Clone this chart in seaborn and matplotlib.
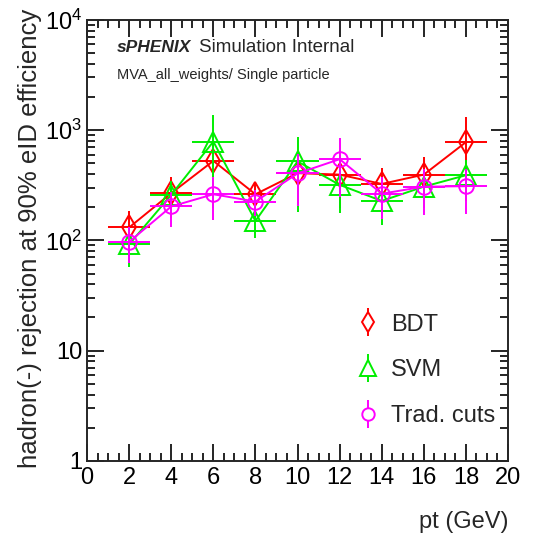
import numpy as np
import pandas as pd
import seaborn as sns
import matplotlib.pyplot as plt
from matplotlib.lines import Line2D
from matplotlib.ticker import FixedLocator, LogLocator, FuncFormatter, NullFormatter

# data
pt = [2, 4, 6, 8, 10, 12, 14, 16, 18]
bdt = [131, 268, 526, 262, 407, 395, 325, 395, 778]
bdt_err = [52, 110, 250, 80, 170, 200, 130, 170, 550]
svm = [92, 259, 787, 150, 520, 319, 228, 307, 390]
svm_err = [35, 90, 590, 45, 340, 140, 90, 110, 150]
trad = [97, 203, 262, 225, 405, 545, 265, 307, 310]
trad_err = [35, 72, 110, 60, 200, 300, 110, 137, 137]
labels = ["BDT", "SVM", "Trad. cuts"]

sns.set_style("ticks")
plt.rcParams['font.family'] = ['Liberation Sans', 'DejaVu Sans']
plt.rcParams['mathtext.default'] = 'regular'

fig = plt.figure(figsize=(5.51, 5.36), dpi=100)
ax = fig.add_axes([0.158, 0.14, 0.764, 0.823])

series = [
    (bdt, bdt_err, "#ff0000", "d", 12.5),
    (svm, svm_err, "#00ee00", "^", 14),
    (trad, trad_err, "#ff00ff", "o", 10.5),
]

handles = []
for (vals, errs, col, mk, ms), lab in zip(series, labels):
    df = pd.DataFrame({"pt": pt, "val": vals})
    sns.lineplot(data=df, x="pt", y="val", color=col, lw=1.4, ax=ax,
                 marker=mk, markersize=ms, markerfacecolor="none",
                 markeredgecolor=col, markeredgewidth=1.4)
    ax.errorbar(pt, vals, yerr=errs, xerr=1, fmt="none", ecolor=col,
                elinewidth=1.4, capsize=0)
    bar = Line2D([], [], marker="|", color=col, markersize=20,
                 markeredgewidth=1.4, linestyle="none")
    mark = Line2D([], [], marker=mk, color=col, markersize=ms * 0.85,
                  markerfacecolor="white", markeredgewidth=1.4, linestyle="none")
    handles.append((bar, mark))

ax.set_yscale("log")
ax.set_xlim(0, 20)
ax.set_ylim(1, 1e4)

ax.xaxis.set_major_locator(FixedLocator(np.arange(0, 21, 2)))
ax.xaxis.set_minor_locator(FixedLocator(np.arange(0, 20.01, 0.5)))
ax.yaxis.set_major_locator(LogLocator(base=10, numticks=10))
ax.yaxis.set_minor_locator(LogLocator(base=10, subs=np.arange(2, 10), numticks=10))
ax.yaxis.set_minor_formatter(NullFormatter())


def ylab(v, pos):
    e = int(round(np.log10(v)))
    if e == 0:
        return "1"
    if e == 1:
        return "10"
    return r"$10^{%d}$" % e


ax.yaxis.set_major_formatter(FuncFormatter(ylab))
ax.tick_params(which="both", direction="in", top=True, right=True,
               labelsize=17, width=1.2, colors="black")
ax.tick_params(which="major", length=12)
ax.tick_params(which="minor", length=6)
ax.tick_params(axis="x", pad=4)
for s in ax.spines.values():
    s.set_linewidth(1.4)

ax.set_xlabel("pt (GeV)", fontsize=17, ha="right", x=1.0, labelpad=16)
ax.set_ylabel("hadron(-) rejection at 90% eID efficiency", fontsize=18.5,
              ha="right", y=1.025, labelpad=2)

ax.text(0.07, 0.928, "sPHENIX", transform=ax.transAxes, fontsize=12.5,
        fontweight="bold", style="italic")
ax.text(0.265, 0.928, "Simulation Internal", transform=ax.transAxes, fontsize=13.5)
ax.text(0.07, 0.866, "MVA_all_weights/ Single particle", transform=ax.transAxes,
        fontsize=10.5)

ax.legend(handles, labels, loc="upper left", bbox_to_anchor=(0.59, 0.382),
          frameon=False, fontsize=17, handlelength=1.0, handletextpad=0.45,
          labelspacing=1.0)

fig.savefig("out.png", dpi=100)
